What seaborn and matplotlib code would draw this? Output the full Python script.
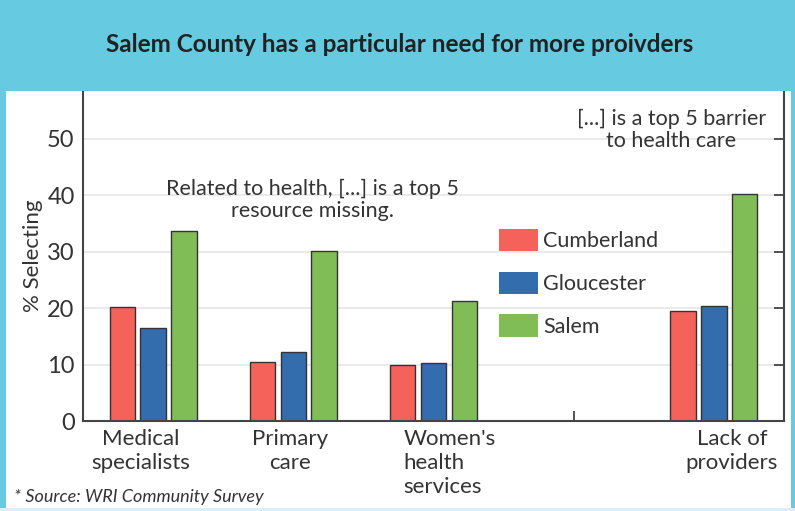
import pandas as pd
import matplotlib
matplotlib.use('Agg')
import matplotlib.pyplot as plt
import matplotlib.patches as mpatches
from matplotlib.transforms import ScaledTranslation
import seaborn as sns

# Data
categories = ['Medical\nspecialists', 'Primary\ncare', "Women's\nhealth\nservices", ' ', 'Lack of\nproviders']
counties = ['Cumberland', 'Gloucester', 'Salem']
cumberland = [20.2, 10.5, 9.9, 19.5]
gloucester = [16.4, 12.2, 10.3, 20.3]
salem = [33.7, 30.1, 21.2, 40.3]
colors = ['#F4625A', '#336DAE', '#80BD57']
yticks = [0, 10, 20, 30, 40, 50]

data_cats = [c for c in categories if c.strip()]
rows = []
for county, vals in zip(counties, [cumberland, gloucester, salem]):
    for cat, v in zip(data_cats, vals):
        rows.append({'Category': cat, 'County': county, 'Value': v})
df = pd.DataFrame(rows)

sns.set_style('white')
plt.rcParams['font.family'] = ['Lato', 'DejaVu Sans']

fig = plt.figure(figsize=(7.95, 5.11), dpi=100)
W, H = 795, 511
ax = fig.add_axes([83 / W, 1 - 421 / H, (784 - 83) / W, (421 - 91) / H])

sns.barplot(data=df, x='Category', y='Value', hue='County', order=categories,
            hue_order=counties, palette=colors, width=0.66, gap=0.18,
            edgecolor='#333333', linewidth=1, saturation=1, errorbar=None, ax=ax)

ax.set_xlim(-0.5, 4.5)
ax.set_ylim(0, 58.5)
ax.set_yticks(yticks)
ax.set_yticklabels([str(t) for t in yticks], fontsize=17, color='#333333')
ax.set_xlabel('')
ax.set_ylabel('% Selecting', fontsize=16, color='#333333', labelpad=3)
for y in yticks[1:]:
    ax.axhline(y, color='#E6E6E6', lw=1.2, zorder=0)
ax.set_axisbelow(True)

for s in ax.spines.values():
    s.set_color('#444444')
    s.set_linewidth(1.5)
ax.spines['top'].set_visible(False)
ax.tick_params(axis='both', direction='in', length=7, width=1.3, color='#444444', zorder=5)
ax.tick_params(axis='y', right=True, pad=6)
ax.tick_params(axis='x', bottom=True, pad=6)
ax.set_xticks(range(len(categories)))
ax.set_xticklabels(categories, fontsize=16, color='#333333', linespacing=1.25)

# nudge tick labels to where the reference puts them
offsets = [-12, -3, -30, 0, 18]
for lab, dx in zip(ax.get_xticklabels(), offsets):
    lab.set_transform(lab.get_transform() + ScaledTranslation(dx / 100, 0, fig.dpi_scale_trans))
    if lab.get_text().startswith('Women'):
        lab.set_ha('left')
        lab.set_multialignment('left')

# legend
handles = [mpatches.Patch(facecolor=c, edgecolor='none') for c in colors]
ax.legend(handles, counties, loc='upper left', bbox_to_anchor=((499 - 83) / (784 - 83), (421 - 229) / 330),
          frameon=False, fontsize=15.5, handlelength=1.8, handleheight=1.2, labelspacing=0.95,
          handletextpad=0.25, borderaxespad=0, borderpad=0, labelcolor='#333333')

# annotations
ax.text(0.327, 0.67, 'Related to health, [...] is a top 5\nresource missing.', transform=ax.transAxes,
        ha='center', va='center', fontsize=15.5, color='#333333', linespacing=1.15)
ax.text(0.839, 0.882, '[...] is a top 5 barrier\nto health care', transform=ax.transAxes,
        ha='center', va='center', fontsize=15.5, color='#333333', linespacing=1.15)

# frame decorations
cyan = '#66CAE1'
fig.patches.append(mpatches.Rectangle((0, 1 - 91 / H), 1, 91 / H, transform=fig.transFigure,
                                      facecolor=cyan, edgecolor='none', zorder=0))
fig.patches.append(mpatches.Rectangle((0, 0), 6 / W, 1, transform=fig.transFigure,
                                      facecolor=cyan, edgecolor='none', zorder=0))
fig.patches.append(mpatches.Rectangle((791 / W, 0), 4 / W, 1, transform=fig.transFigure,
                                      facecolor=cyan, edgecolor='none', zorder=0))
fig.patches.append(mpatches.Rectangle((0, 0), 1, 3 / H, transform=fig.transFigure,
                                      facecolor='#D8F1F7', edgecolor='none', zorder=0))

fig.text(0.503, 1 - 44 / H, 'Salem County has a particular need for more proivders',
         ha='center', va='center', fontsize=17.5, fontweight='bold', color='#222222')
fig.text(14 / W, 1 - 497 / H, '* Source: WRI Community Survey', ha='left', va='center',
         fontsize=13, style='italic', color='#333333')

fig.savefig('out.png', dpi=100)
